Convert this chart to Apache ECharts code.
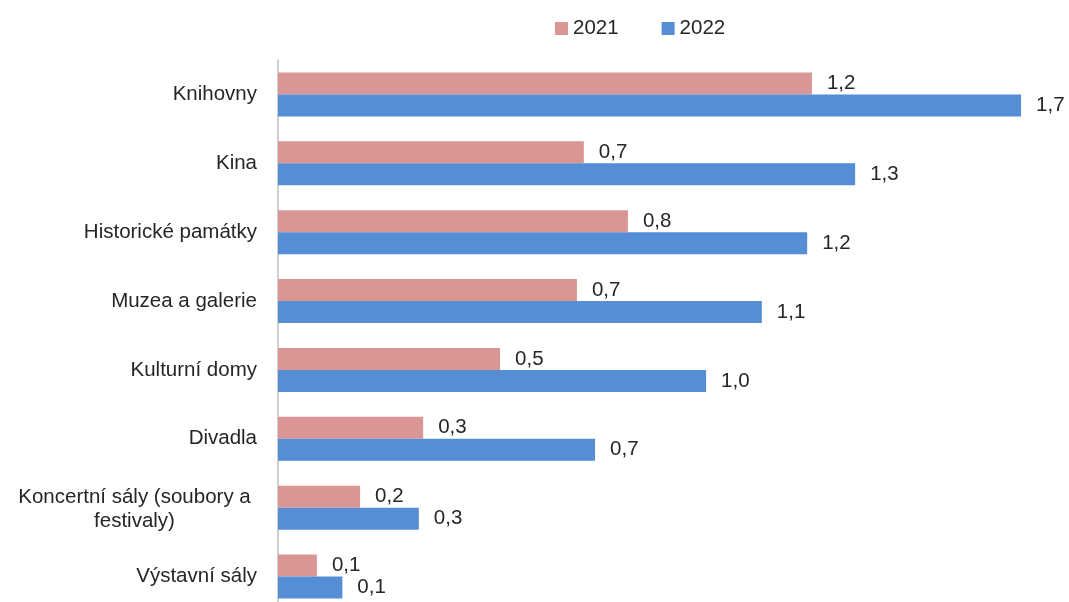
<!DOCTYPE html>
<html>
<head>
<meta charset="utf-8">
<script src="https://cdn.jsdelivr.net/npm/echarts@6/dist/echarts.min.js"></script>
<style>html,body{margin:0;padding:0;background:#fff;overflow:hidden;}#c{width:1069px;height:612px;}</style>
</head>
<body>
<div id="c"></div>
<script>
const categories = ['Knihovny', 'Kina', 'Historické památky', 'Muzea a galerie', 'Kulturní domy', 'Divadla', 'Koncertní sály (soubory a festivaly)', 'Výstavní sály'];
const seriesNames = ['2021', '2022'];
const values2021 = [1.236, 0.708, 0.81, 0.692, 0.514, 0.336, 0.19, 0.09];
const values2022 = [1.72, 1.336, 1.225, 1.12, 0.991, 0.734, 0.326, 0.149];

const font = 'Liberation Sans, Arial, sans-serif';
const fs = 20.5;
const txt = '#262626';
const fmt = v => v.toFixed(1).replace('.', ',');
const chart = echarts.init(document.getElementById('c'));
chart.setOption({
  animation: false,
  textStyle: { fontFamily: font },
  legend: {
    data: seriesNames,
    top: 13,
    left: 550,
    icon: 'rect',
    itemWidth: 13,
    itemHeight: 13,
    itemGap: 43,
    textStyle: { fontSize: fs, color: txt, fontFamily: font }
  },
  grid: { left: 278, top: 60, width: 777.6, height: 551 },
  xAxis: {
    type: 'value', min: 0, max: 1.8, show: false
  },
  yAxis: {
    type: 'category', data: categories, inverse: true,
    axisLine: { lineStyle: { color: '#bfbfbf', width: 1.5 } },
    axisTick: { show: false },
    axisLabel: {
      fontSize: fs, color: txt, margin: 21, fontFamily: font, lineHeight: 24,
      formatter: function (v) {
        if (v.indexOf('Koncertní') === 0) {
          return '{c|Koncertní sály (soubory a}\n{c|festivaly)}';
        }
        return v;
      },
      rich: { c: { width: 245, align: 'center', fontSize: fs, color: txt, lineHeight: 24, fontFamily: font, padding: [3, 0, 0, 0] } }
    }
  },
  series: [
    {
      name: seriesNames[0], type: 'bar', data: values2021,
      barWidth: 22, barGap: '0%',
      itemStyle: { color: '#D99694' },
      label: { show: true, position: 'right', distance: 15, fontSize: fs, color: txt, fontFamily: font, formatter: p => fmt(p.value) }
    },
    {
      name: seriesNames[1], type: 'bar', data: values2022,
      barWidth: 22, barGap: '0%',
      itemStyle: { color: '#558ED5' },
      label: { show: true, position: 'right', distance: 15, fontSize: fs, color: txt, fontFamily: font, formatter: p => fmt(p.value) }
    }
  ]
});
</script>
</body>
</html>
